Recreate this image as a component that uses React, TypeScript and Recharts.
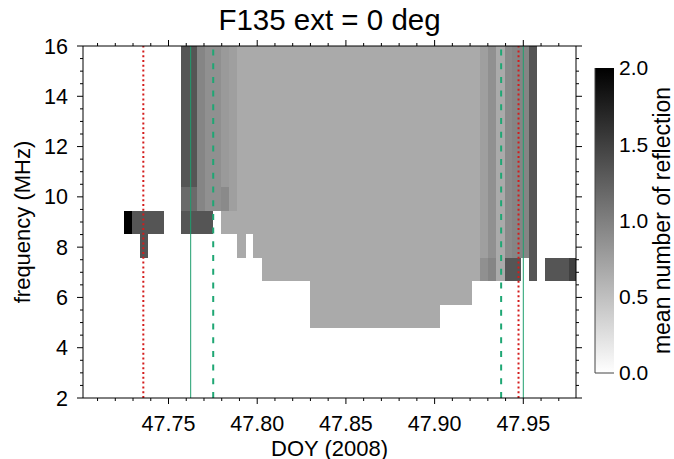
import React from 'react';
import { ComposedChart, XAxis, YAxis, ReferenceArea, ReferenceLine, Scatter } from 'recharts';

const FONT = '"Liberation Sans", Arial, Helvetica, sans-serif';

// ---------- axes ----------
const xDomain: [number, number] = [47.7018, 47.9797];
const yDomain: [number, number] = [2, 16];
const xMajorTicks = [47.75, 47.8, 47.85, 47.9, 47.95];
const xMinorTicks = [47.71, 47.72, 47.73, 47.74, 47.76, 47.77, 47.78, 47.79, 47.81, 47.82, 47.83, 47.84,
  47.86, 47.87, 47.88, 47.89, 47.91, 47.92, 47.93, 47.94, 47.96, 47.97];
const yMajorTicks = [2, 4, 6, 8, 10, 12, 14, 16];
const yMinorTicks = [2.5, 3, 3.5, 4.5, 5, 5.5, 6.5, 7, 7.5, 8.5, 9, 9.5, 10.5, 11, 11.5, 12.5, 13, 13.5,
  14.5, 15, 15.5];
const cbTicks = [0, 0.5, 1, 1.5, 2];

// ---------- spectrogram cells: [t0, t1, f0 (MHz), f1 (MHz), mean reflections] ----------
const leftCells: [number, number, number, number, number][] = [
  [47.7249, 47.7295, 8.52, 9.45, 2.0],
  [47.7295, 47.7477, 8.52, 9.45, 1.333],
  [47.7340, 47.7386, 7.58, 8.52, 1.333],
  [47.7568, 47.7660, 10.39, 16.0, 1.333],
  [47.7568, 47.7660, 9.45, 10.39, 1.17],
  [47.7568, 47.7751, 8.52, 9.45, 1.333],
  [47.7660, 47.7705, 9.45, 16.0, 0.96],
  [47.7705, 47.7797, 9.45, 16.0, 0.87],
  [47.7797, 47.7842, 10.39, 16.0, 0.79],
  [47.7797, 47.7842, 9.45, 10.39, 0.92],
  [47.7842, 47.7888, 9.45, 16.0, 0.75],
  [47.7797, 47.7888, 8.52, 9.45, 0.667],
];
const mainCells: [number, number, number, number, number][] = [
  [47.7888, 47.9257, 8.52, 16.0, 0.667],
  [47.7888, 47.7934, 7.58, 8.52, 0.667],
  [47.7979, 47.9257, 7.58, 8.52, 0.667],
  [47.8025, 47.9257, 6.65, 7.58, 0.667],
  [47.8299, 47.9211, 5.71, 6.65, 0.667],
  [47.8299, 47.9029, 4.78, 5.71, 0.667],
];
const rightCells: [number, number, number, number, number][] = [
  [47.9257, 47.9303, 7.58, 16.0, 0.75],
  [47.9303, 47.9348, 7.58, 16.0, 0.87],
  [47.9348, 47.9394, 7.58, 16.0, 0.667],
  [47.9394, 47.9439, 7.58, 16.0, 0.92],
  [47.9439, 47.9531, 7.58, 16.0, 0.96],
  [47.9531, 47.9576, 7.58, 16.0, 1.333],
  [47.9257, 47.9303, 6.65, 7.58, 0.87],
  [47.9303, 47.9348, 6.65, 7.58, 0.96],
  [47.9348, 47.9394, 6.65, 7.58, 0.667],
  [47.9394, 47.9485, 6.65, 7.58, 1.333],
  [47.9531, 47.9576, 6.65, 7.58, 1.333],
  [47.9622, 47.9759, 6.65, 7.58, 1.333],
  [47.9759, 47.9804, 6.65, 7.58, 1.5],
];

// ---------- event lines (DOY) ----------
const redDotted = [47.7358, 47.9473];
const greenDashed = [47.7752, 47.9375];
const greenSolid = [47.7625, 47.95];

const gray = (v: number) => {
  const g = Math.round(255 * (1 - Math.min(Math.max(v, 0), 2) / 2));
  return `rgb(${g},${g},${g})`;
};

const xAllTicks = [...xMajorTicks, ...xMinorTicks].sort((a, b) => a - b);
const yAllTicks = [...yMajorTicks, ...yMinorTicks].sort((a, b) => a - b);
const isMajor = (list: number[], v: number) => list.some((m) => Math.abs(m - v) < 1e-6);

const TICK_FS = 21.5;
const css = `.recharts-reference-area-rect{shape-rendering:crispEdges}`;

const BottomTick = (p: any) => {
  const v = p.payload.value;
  const major = isMajor(xMajorTicks, v);
  return (
    <g>
      <line x1={p.x} x2={p.x} y1={p.y} y2={p.y + (major ? 6 : 3)} stroke="#000" strokeWidth={1} />
      {major && (
        <text x={p.x} y={p.y + 17.5} dy="0.71em" textAnchor="middle" fontSize={TICK_FS} fontFamily={FONT} fill="#000">
          {v.toFixed(2)}
        </text>
      )}
    </g>
  );
};
const TopTick = (p: any) => {
  const major = isMajor(xMajorTicks, p.payload.value);
  return <line x1={p.x} x2={p.x} y1={p.y} y2={p.y - (major ? 6 : 3)} stroke="#000" strokeWidth={1} />;
};
const LeftTick = (p: any) => {
  const v = p.payload.value;
  const major = isMajor(yMajorTicks, v);
  return (
    <g>
      <line x1={p.x - (major ? 6 : 3)} x2={p.x} y1={p.y} y2={p.y} stroke="#000" strokeWidth={1} />
      {major && (
        <text x={p.x - 15} y={p.y} dy="0.355em" textAnchor="end" fontSize={TICK_FS} fontFamily={FONT} fill="#000">
          {String(v)}
        </text>
      )}
    </g>
  );
};
const RightTick = (p: any) => {
  const major = isMajor(yMajorTicks, p.payload.value);
  return <line x1={p.x} x2={p.x + (major ? 6 : 3)} y1={p.y} y2={p.y} stroke="#000" strokeWidth={1} />;
};

const yTitle = (props: any) => {
  const vb = props.viewBox || {};
  const x = (vb.x ?? 82) + (vb.width ?? 1) - 61;
  const y = (vb.y ?? 46) + (vb.height ?? 352) / 2;
  return (
    <text x={x} y={y} transform={`rotate(-90, ${x}, ${y})`} textAnchor="middle" dominantBaseline="central"
      fontSize={22} fontFamily={FONT} fill="#000">frequency (MHz)</text>
  );
};
const xTitle = (props: any) => {
  const vb = props.viewBox || {};
  const x = (vb.x ?? 83) + (vb.width ?? 493) / 2;
  const y = (vb.y ?? 398) + 57.5;
  return <text x={x} y={y} textAnchor="middle" fontSize={22} fontFamily={FONT} fill="#000">DOY (2008)</text>;
};
const topTitle = (props: any) => {
  const vb = props.viewBox || {};
  const x = (vb.x ?? 83) + (vb.width ?? 493) / 2;
  const y = (vb.y ?? 45) + (vb.height ?? 1) - 16;
  return <text x={x} y={y} textAnchor="middle" fontSize={29.5} fontFamily={FONT} fill="#000">F135 ext = 0 deg</text>;
};
const cbTitle = (props: any) => {
  const vb = props.viewBox || {};
  const x = (vb.x ?? 20) + 48;
  const y = (vb.y ?? 68) + (vb.height ?? 305) / 2;
  return (
    <text x={x} y={y} transform={`rotate(-90, ${x}, ${y})`} textAnchor="middle" dominantBaseline="central"
      fontSize={23} fontFamily={FONT} fill="#000">mean number of reflection</text>
  );
};

const EmptyShape = () => <g />;

export default function App() {
  const allCells = [...leftCells, ...mainCells, ...rightCells];
  // cell centres, used as the chart's data so the axes get their numeric scales
  const cellRows = allCells.map((c) => ({ t: (c[0] + c[1]) / 2, f: (c[2] + c[3]) / 2, v: c[4] }));
  const cbRows = cbTicks.map((v) => ({ x: 0.5, v }));
  return (
    <div style={{ position: 'absolute', left: 0, top: 0, width: 674, height: 459, overflow: 'hidden', background: '#fff', fontFamily: FONT }}>
      <style>{css}</style>
      <div style={{ position: 'absolute', left: 0, top: 0 }}>
        <ComposedChart width={674} height={459} data={cellRows} margin={{ top: 45, right: 97, bottom: 60, left: 82 }}>
          <XAxis xAxisId={0} dataKey="t" type="number" domain={xDomain} allowDataOverflow ticks={xAllTicks} interval={0}
            height={1} stroke="#000" tickSize={0} tickMargin={0} tickLine={false} tick={<BottomTick />}
            label={{ content: xTitle }} />
          <XAxis xAxisId="top" dataKey="t" orientation="top" type="number" domain={xDomain} allowDataOverflow ticks={xAllTicks}
            interval={0} height={1} stroke="#000" tickSize={0} tickMargin={0} tickLine={false} tick={<TopTick />}
            label={{ content: topTitle }} />
          <YAxis yAxisId={0} type="number" domain={yDomain} allowDataOverflow ticks={yAllTicks} interval={0}
            width={1} stroke="#000" tickSize={0} tickMargin={0} tickLine={false} tick={<LeftTick />}
            label={{ content: yTitle }} />
          <YAxis yAxisId="right" orientation="right" type="number" domain={yDomain} allowDataOverflow ticks={yAllTicks}
            interval={0} width={1} stroke="#000" tickSize={0} tickMargin={0} tickLine={false} tick={<RightTick />} />
          <Scatter xAxisId={0} yAxisId={0} dataKey="f" shape={<EmptyShape />} isAnimationActive={false} legendType="none" />
          <Scatter xAxisId="top" yAxisId="right" dataKey="f" shape={<EmptyShape />} isAnimationActive={false} legendType="none" />
          {allCells.map((c, i) => (
            <ReferenceArea key={`c${i}`} x1={c[0]} x2={c[1]} y1={c[2]} y2={c[3]} fill={gray(c[4])} fillOpacity={1}
              stroke="none" ifOverflow="hidden" />
          ))}
          {greenSolid.map((t, i) => (
            <ReferenceLine key={`gs${i}`} x={t} stroke="#1f9f6f" strokeWidth={1} />
          ))}
          {greenDashed.map((t, i) => (
            <ReferenceLine key={`gd${i}`} x={t} stroke="#1fa774" strokeWidth={2} strokeDasharray="6 7.7" />
          ))}
          {redDotted.map((t, i) => (
            <ReferenceLine key={`rd${i}`} x={t} stroke="#d41c1c" strokeWidth={2} strokeDasharray="2 2.8" />
          ))}
        </ComposedChart>
      </div>
      <div style={{ position: 'absolute', left: 594, top: 0 }}>
        <ComposedChart width={115} height={459} data={cbRows} margin={{ top: 68, right: 0, bottom: 85, left: 0 }}>
          <defs>
            <linearGradient id="cbGrad" x1="0" y1="0" x2="0" y2="1">
              <stop offset="0%" stopColor="#000" />
              <stop offset="100%" stopColor="#fff" />
            </linearGradient>
          </defs>
          <XAxis xAxisId={0} dataKey="x" type="number" domain={[0, 1]} allowDataOverflow height={1} stroke="#444"
            tick={false} tickLine={false} />
          <YAxis yAxisId={0} type="number" domain={[0, 2]} allowDataOverflow width={1} stroke="#444"
            tick={false} tickLine={false} />
          <YAxis yAxisId="cb" orientation="right" type="number" domain={[0, 2]} allowDataOverflow ticks={cbTicks}
            interval={0} width={95} axisLine={false} tickLine={false} tickSize={0} tickMargin={5}
            tick={{ fill: '#000', fontSize: 21, fontFamily: FONT }}
            tickFormatter={(v: number) => v.toFixed(1)} label={{ content: cbTitle }} />
          <Scatter xAxisId={0} yAxisId={0} dataKey="v" shape={<EmptyShape />} isAnimationActive={false} legendType="none" />
          <ReferenceArea x1={0} x2={1} y1={0} y2={2} fill="url(#cbGrad)" fillOpacity={1} stroke="none" />
        </ComposedChart>
      </div>
    </div>
  );
}
